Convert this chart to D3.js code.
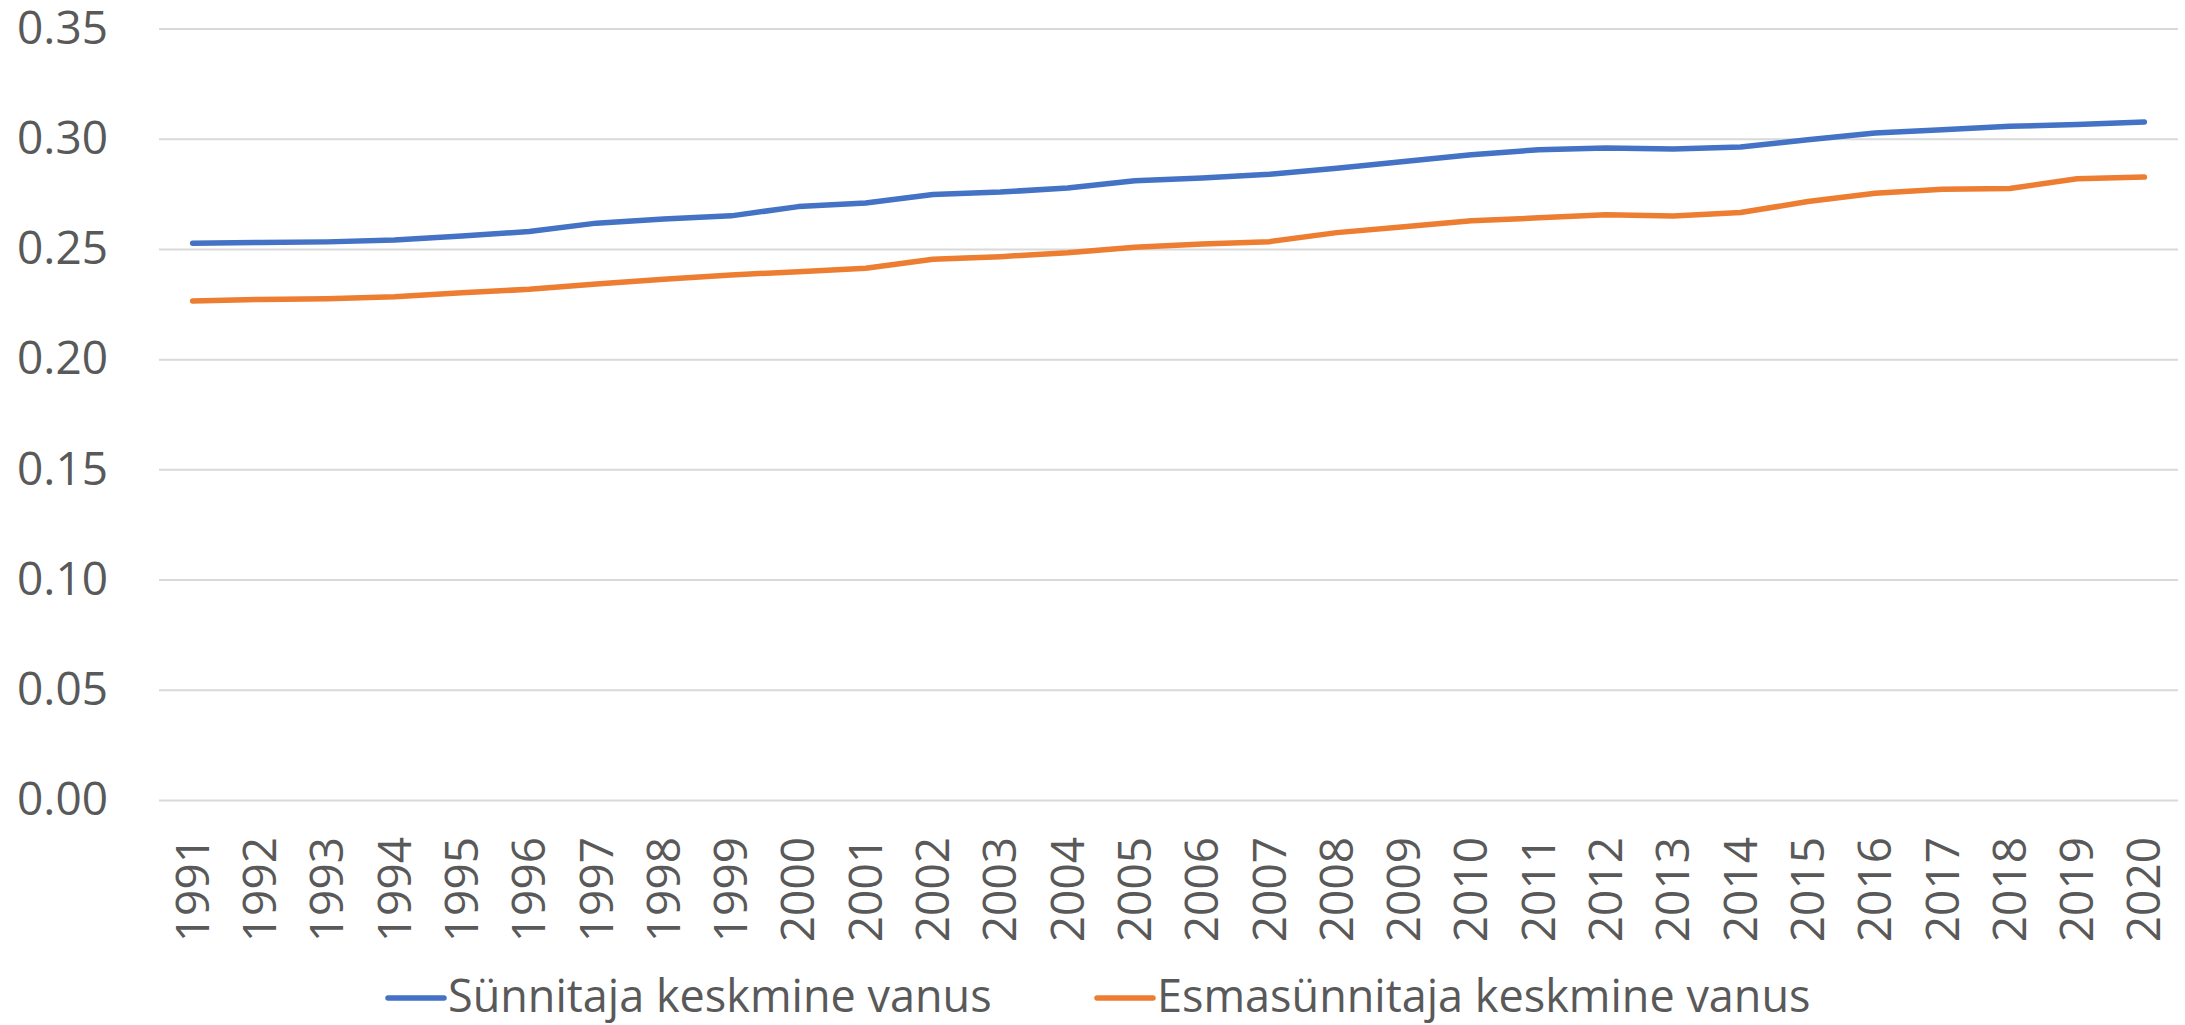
<!DOCTYPE html>
<html>
<head>
<meta charset="utf-8">
<script src="https://cdn.jsdelivr.net/npm/d3@7"></script>
<style>
  body { margin: 0; background: #fff; }
  text { font-family: "Open Sans", sans-serif; fill: #595959; }
</style>
</head>
<body>
<div id="grafico"></div>
<script>
// --- dati ---
const anni = ["1991","1992","1993","1994","1995","1996","1997","1998","1999","2000",
  "2001","2002","2003","2004","2005","2006","2007","2008","2009","2010",
  "2011","2012","2013","2014","2015","2016","2017","2018","2019","2020"];

const sunnitaja = [0.2526, 0.2529, 0.2532, 0.2541, 0.2559, 0.2579, 0.2617, 0.2636, 0.2650, 0.2692,
  0.2708, 0.2747, 0.2758, 0.2776, 0.2809, 0.2822, 0.2839, 0.2866, 0.2897, 0.2927,
  0.2950, 0.2958, 0.2953, 0.2962, 0.2995, 0.3026, 0.3041, 0.3056, 0.3064, 0.3076];

const esmasunnitaja = [0.2264, 0.2271, 0.2274, 0.2283, 0.2301, 0.2317, 0.2341, 0.2362, 0.2382, 0.2397,
  0.2412, 0.2453, 0.2465, 0.2483, 0.2508, 0.2522, 0.2533, 0.2574, 0.2601, 0.2628,
  0.2641, 0.2655, 0.2649, 0.2665, 0.2715, 0.2753, 0.2771, 0.2774, 0.2818, 0.2826];

const nomiSerie = ["Sünnitaja keskmine vanus", "Esmasünnitaja keskmine vanus"];
const colori = ["#4472C4", "#ED7D31"];
const yTicks = [0, 0.05, 0.10, 0.15, 0.20, 0.25, 0.30, 0.35];

// --- impostazioni ---
const W = 2185, H = 1025;
const margin = {left: 159, right: 2178, top: 28.5, bottom: 800};

const svg = d3.select("#grafico").append("svg")
  .attr("width", W)
  .attr("height", H);

const x = d3.scaleBand().domain(anni).range([margin.left, margin.right]).padding(0);
const y = d3.scaleLinear().domain([0, 0.35]).range([margin.bottom, margin.top]);

// asse Y con griglia
const asseY = svg.append("g")
  .attr("transform", `translate(${margin.left},0)`)
  .call(d3.axisLeft(y).tickValues(yTicks).tickSize(-(margin.right - margin.left)).tickPadding(51).tickFormat(d3.format(".2f")));
asseY.select(".domain").remove();
asseY.selectAll(".tick line").attr("stroke", "#d9d9d9").attr("stroke-width", 2);
asseY.selectAll(".tick text").style("font-size", "46px").attr("fill", "#595959");

// asse X (etichette ruotate)
const asseX = svg.append("g")
  .attr("transform", `translate(0,${margin.bottom})`)
  .call(d3.axisBottom(x).tickSize(0));
asseX.select(".domain").remove();
asseX.selectAll(".tick text")
  .style("font-size", "46px")
  .attr("fill", "#595959")
  .attr("text-anchor", "end")
  .attr("transform", "rotate(-90)")
  .attr("x", -37)
  .attr("y", 0)
  .attr("dy", "0.35em");

// linee
const linea = d3.line()
  .x((d, i) => x(anni[i]) + x.bandwidth() / 2)
  .y(d => y(d));

[sunnitaja, esmasunnitaja].forEach((serie, k) => {
  svg.append("path")
    .datum(serie)
    .attr("fill", "none")
    .attr("stroke", colori[k])
    .attr("stroke-width", 5.5)
    .attr("stroke-linecap", "round")
    .attr("stroke-linejoin", "round")
    .attr("d", linea);
});

// legenda
const legX = [388, 1097];
nomiSerie.forEach((nome, k) => {
  const g = svg.append("g").attr("transform", `translate(${legX[k]},998)`);
  g.append("line")
    .attr("x1", 0).attr("x2", 56)
    .attr("stroke", colori[k])
    .attr("stroke-width", 5.5)
    .attr("stroke-linecap", "round");
  g.append("text")
    .attr("x", 60)
    .attr("y", 14)
    .style("font-size", "45px")
    .text(nome);
});
</script>
</body>
</html>
